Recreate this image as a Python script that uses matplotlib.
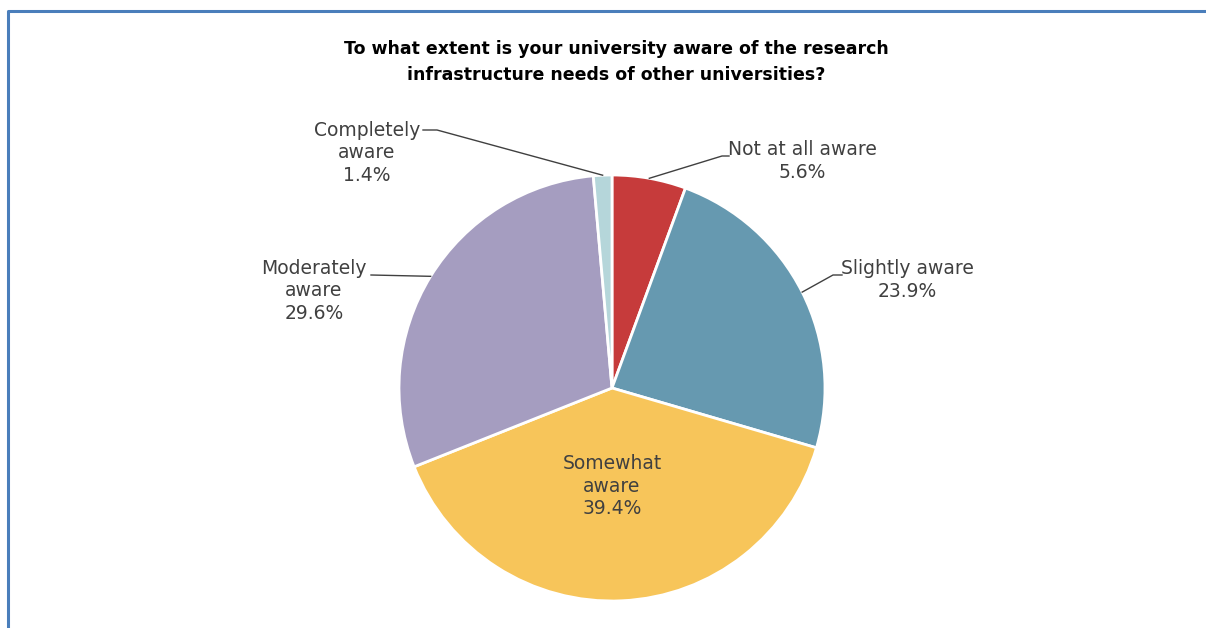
import matplotlib
matplotlib.use("Agg")
import matplotlib.pyplot as plt
import numpy as np

plt.rcParams["font.family"] = ["DejaVu Sans"]

labels = ["Not at all aware", "Slightly aware", "Somewhat\naware", "Moderately\naware", "Completely\naware"]
values = [5.6, 23.9, 39.4, 29.6, 1.4]
colors = ["#c63b3b", "#6699b0", "#f7c55a", "#a59dc0", "#b5d6da"]
title = "To what extent is your university aware of the research\ninfrastructure needs of other universities?"

W, H = 1206, 628
fig = plt.figure(figsize=(W / 100, H / 100), dpi=100)
ax = fig.add_axes([0, 0, 1, 1])

# outer border (top and left visible)
ax.plot([8, 8, W + 5], [-5, H - 11, H - 11], color="#4a7ebb", lw=2.2, solid_capstyle="butt")

cx, cy, r = 612, 240, 213
wedges, _ = ax.pie(values, colors=colors, startangle=90, counterclock=False,
                   center=(cx, cy), radius=r,
                   wedgeprops=dict(edgecolor="white", linewidth=2))
ax.set_xlim(0, W)
ax.set_ylim(0, H)
ax.set_aspect("equal")
ax.axis("off")

ax.text(616, H - 62, title, ha="center", va="center", fontsize=12.5,
        fontweight="bold", color="black", linespacing=1.5)

# label centres and leader elbows
txt_pos = [(802, H - 161), (907, H - 280), (612, H - 486), (314, H - 291), (367, H - 153)]
elbows = [[(722, H - 156), (729, H - 156)],
          [(833, H - 275), (842, H - 275)],
          None,
          [(371, H - 275)],
          [(437, H - 130), (423, H - 130)]]

cum = 0
tot = sum(values)
for i, (lab, v) in enumerate(zip(labels, values)):
    mid = np.deg2rad(90 - (cum + v / 2) / tot * 360)
    cum += v
    s = lab + "\n" + f"{v:.1f}%"
    tx, ty = txt_pos[i]
    ax.text(tx, ty, s, ha="center", va="center", fontsize=13.5, color="#404040",
            linespacing=1.25)
    if elbows[i] is not None:
        ex, ey = cx + r * np.cos(mid), cy + r * np.sin(mid)
        pts = [(ex, ey)] + elbows[i]
        ax.plot([p[0] for p in pts], [p[1] for p in pts], color="#404040", lw=1)

fig.savefig("out.png", dpi=100)
